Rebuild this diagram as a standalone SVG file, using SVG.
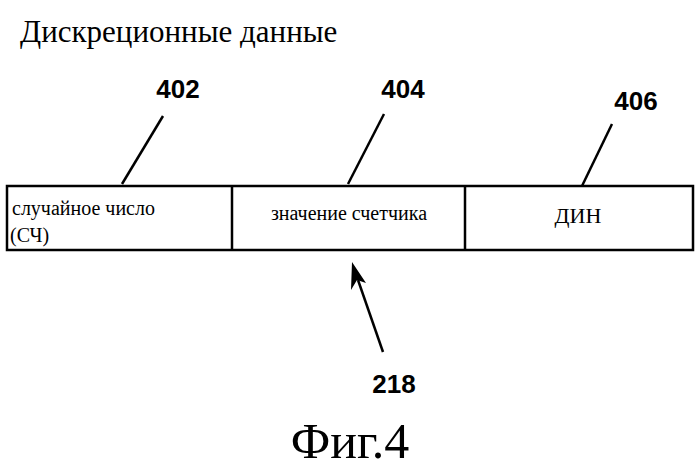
<svg xmlns="http://www.w3.org/2000/svg" width="700" height="473" viewBox="0 0 700 473">
<style>
.s{font-family:"Liberation Serif","Times New Roman","DejaVu Serif",serif;fill:#000}
.n{font-family:"Liberation Sans",sans-serif;font-weight:bold;font-size:26px;fill:#000;text-anchor:middle}
.l{stroke:#000;stroke-width:2.5;fill:none}
</style>
<rect width="700" height="473" fill="#fff"/>
<text class="s" x="20" y="42" font-size="31">Дискреционные данные</text>
<g id="box">
<rect x="7" y="186" width="686" height="64" class="l" stroke-width="3.5"/>
<line x1="232" y1="186" x2="232" y2="250" class="l"/>
<line x1="465" y1="186" x2="465" y2="250" class="l"/>
</g>
<g id="n402"><text class="s" x="12" y="215" font-size="20">случайное число</text><text class="s" x="10" y="242" font-size="20">(СЧ)</text><text class="n" x="178" y="98">402</text></g>
<g id="n404"><text class="s" x="349" y="220" font-size="20" text-anchor="middle">значение счетчика</text><text class="n" x="403" y="98">404</text></g>
<g id="n406"><text class="s" x="578" y="223" font-size="22" text-anchor="middle">ДИН</text><text class="n" x="636" y="110">406</text></g>
<g id="n218"><text class="n" x="394" y="393">218</text></g>
<g id="connectors">
<line x1="163" y1="116" x2="122" y2="184" class="l"/>
<line x1="384" y1="114" x2="348" y2="184" class="l"/>
<line x1="612" y1="124" x2="582" y2="186" class="l"/>
<line x1="383" y1="352" x2="358" y2="280" class="l" stroke-width="3"/>
<path d="M352,262 L366,283 L357,280 L351,290 Z" fill="#000"/>
</g>
<text class="s" x="350" y="458" font-size="50" text-anchor="middle">Фиг.4</text>
</svg>
